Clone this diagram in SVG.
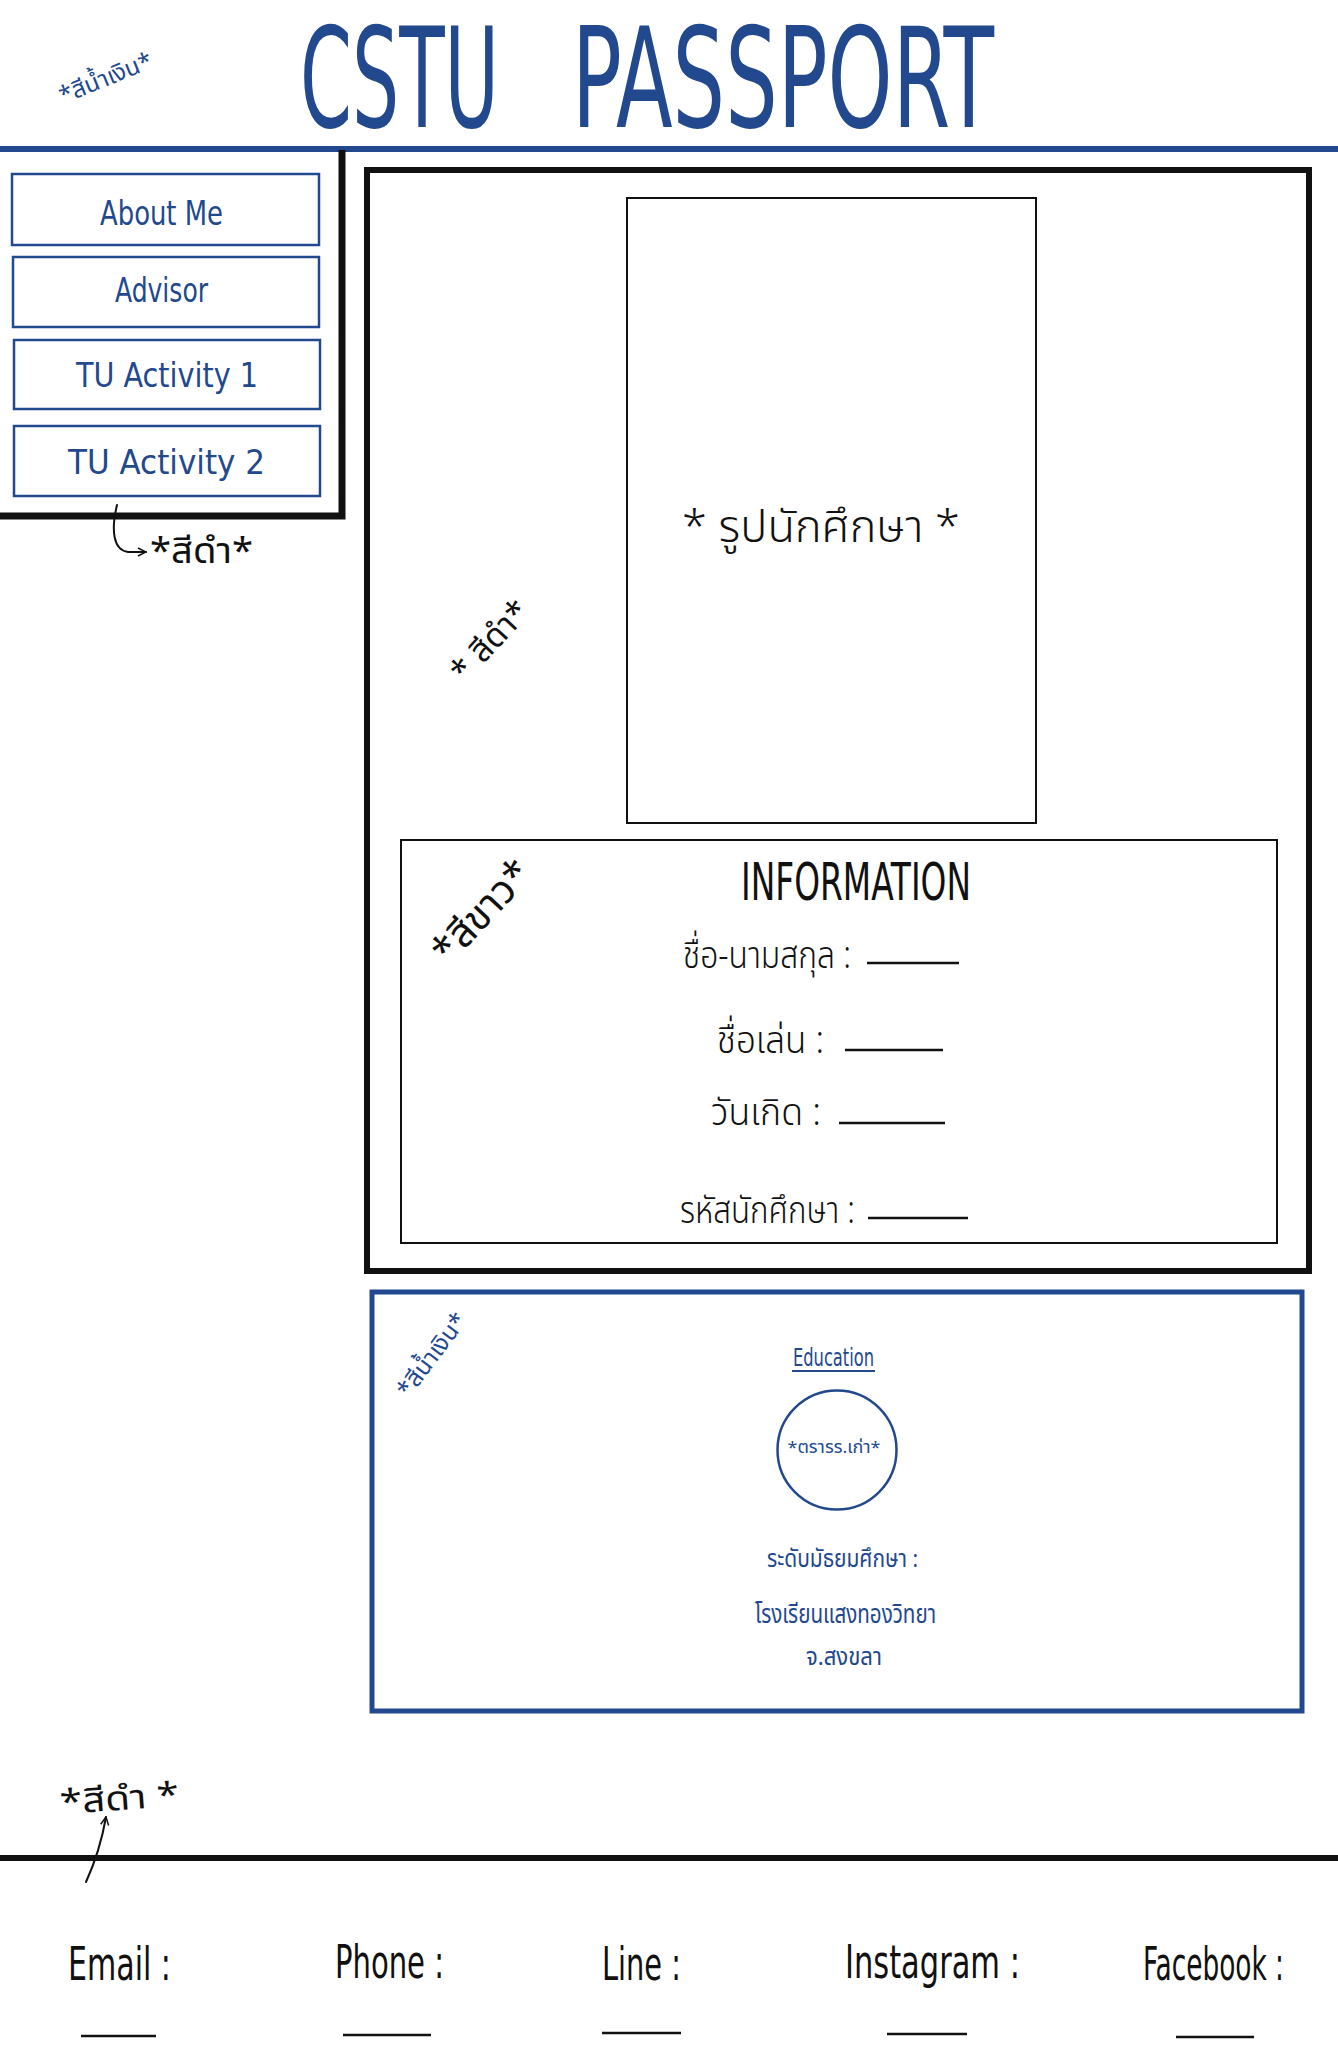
<svg xmlns="http://www.w3.org/2000/svg" width="1338" height="2048" viewBox="0 0 1338 2048">
<defs>
<style>
.bg{fill:#ffffff}
.blue{fill:#22488e}
.blk{fill:#111111}
.en{font-family:"Liberation Sans Narrow","DejaVu Sans Condensed","Liberation Sans",sans-serif}
.th{font-family:"Noto Sans Thai","Noto Sans Thai Looped","Loma","Garuda","Noto Sans",sans-serif}
.lt{font-weight:300}
.btn{fill:#ffffff;stroke:#22488e;stroke-width:2.5}
.thinbox{fill:#ffffff;stroke:#111111;stroke-width:2}
.uline{stroke:#111111;stroke-width:2.5}
.con{fill:none;stroke:#111111;stroke-width:2;stroke-linecap:round}
</style>
<marker id="arr" viewBox="0 0 10 10" refX="9" refY="5" markerWidth="10" markerHeight="10" markerUnits="userSpaceOnUse" orient="auto">
<path d="M1,1 L9,5 L1,9" fill="none" stroke="#111111" stroke-width="1.5"/>
</marker>
</defs>
<rect class="bg" x="0" y="0" width="1338" height="2048"/>

<g id="header">
<text class="en blue" font-size="90" transform="translate(0,127) scale(1,1.55)"><tspan x="300" y="0" textLength="199" lengthAdjust="spacingAndGlyphs">CSTU</tspan><tspan x="572" y="0" textLength="422" lengthAdjust="spacingAndGlyphs">PASSPORT</tspan></text>
<text class="th blue" x="106" y="86" font-size="24" text-anchor="middle" transform="rotate(-22 106 79)">*สีน้ำเงิน*</text>
<rect x="0" y="146" width="1338" height="6" fill="#22488e"/>
</g>

<g id="nav-panel">
<path d="M342,150 L342,516 L0,516" fill="none" stroke="#111111" stroke-width="7"/>
<g id="btn-about">
<rect class="btn" x="12" y="174" width="307" height="71"/>
<text class="en blue" x="100" y="225" font-size="34" textLength="123" lengthAdjust="spacingAndGlyphs">About  Me</text>
</g>
<g id="btn-advisor">
<rect class="btn" x="13" y="257" width="306" height="70"/>
<text class="en blue" x="115" y="302" font-size="34" textLength="93" lengthAdjust="spacingAndGlyphs">Advisor</text>
</g>
<g id="btn-act1">
<rect class="btn" x="14" y="340" width="306" height="69"/>
<text class="en blue" x="76" y="387" font-size="34" textLength="182" lengthAdjust="spacingAndGlyphs">TU  Activity  1</text>
</g>
<g id="btn-act2">
<rect class="btn" x="14" y="426" width="306" height="70"/>
<text class="en blue" x="68" y="474" font-size="34" textLength="197" lengthAdjust="spacingAndGlyphs">TU  Activity   2</text>
</g>
<text class="th blk" x="150" y="563" font-size="36" textLength="103" lengthAdjust="spacingAndGlyphs">*สีดำ*</text>
</g>

<g id="main-card">
<rect x="367" y="170" width="942" height="1101" fill="none" stroke="#111111" stroke-width="6"/>
<text class="th blk" x="490" y="652" font-size="33" text-anchor="middle" transform="rotate(-47 490 641)">* สีดำ*</text>
</g>

<g id="photo-box">
<rect class="thinbox" x="627" y="198" width="409" height="625"/>
<text class="th lt blk" x="682" y="542" font-size="44" textLength="278" lengthAdjust="spacingAndGlyphs">* รูปนักศึกษา *</text>
</g>

<g id="info-box">
<rect class="thinbox" x="401" y="840" width="876" height="403"/>
<text class="th blk" x="482" y="925" font-size="40" text-anchor="middle" transform="rotate(-47 482 912)">*สีขาว*</text>
<text class="en blk" font-size="40" transform="translate(0,900) scale(1,1.3)"><tspan x="741" y="0" textLength="230" lengthAdjust="spacingAndGlyphs">INFORMATION</tspan></text>
<text class="th lt blk" x="683" y="968" font-size="38" textLength="168" lengthAdjust="spacingAndGlyphs">ชื่อ-นามสกุล :</text>
<line class="uline" x1="867" y1="963" x2="959" y2="963"/>
<text class="th lt blk" x="717" y="1053" font-size="38" textLength="107" lengthAdjust="spacingAndGlyphs">ชื่อเล่น :</text>
<line class="uline" x1="845" y1="1050" x2="943" y2="1050"/>
<text class="th lt blk" x="711" y="1125" font-size="38" textLength="110" lengthAdjust="spacingAndGlyphs">วันเกิด :</text>
<line class="uline" x1="839" y1="1123" x2="945" y2="1123"/>
<text class="th lt blk" x="680" y="1223" font-size="38" textLength="175" lengthAdjust="spacingAndGlyphs">รหัสนักศึกษา :</text>
<line class="uline" x1="868" y1="1218" x2="968" y2="1218"/>
</g>

<g id="education-box">
<rect x="372" y="1292" width="930" height="419" fill="none" stroke="#22488e" stroke-width="5"/>
<text class="th blue" x="432" y="1363" font-size="24" text-anchor="middle" transform="rotate(-53 432 1355)">*สีน้ำเงิน*</text>
<text class="en blue" x="793" y="1366" font-size="24" textLength="81" lengthAdjust="spacingAndGlyphs">Education</text>
<line x1="792" y1="1371" x2="875" y2="1371" stroke="#22488e" stroke-width="2"/>
<circle cx="837" cy="1450" r="59.5" fill="none" stroke="#22488e" stroke-width="2.5"/>
<text class="th blue" x="834" y="1453" font-size="17" text-anchor="middle" textLength="93" lengthAdjust="spacingAndGlyphs">*ตรารร.เก่า*</text>
<text class="th blue" x="767" y="1567" font-size="24" textLength="151" lengthAdjust="spacingAndGlyphs">ระดับมัธยมศึกษา :</text>
<text class="th blue" x="755" y="1623" font-size="26" textLength="181" lengthAdjust="spacingAndGlyphs">โรงเรียนแสงทองวิทยา</text>
<text class="th blue" x="806" y="1665" font-size="24" textLength="76" lengthAdjust="spacingAndGlyphs">จ.สงขลา</text>
</g>

<g id="footer">
<text class="th blk" x="60" y="1810" font-size="34" textLength="119" lengthAdjust="spacingAndGlyphs" transform="rotate(-4 120 1800)">*สีดำ *</text>
<rect x="0" y="1855" width="1338" height="6" fill="#111111"/>
<g id="f-email">
<text class="en blk" font-size="36" transform="translate(0,1980) scale(1,1.28)"><tspan x="68" y="0" textLength="103" lengthAdjust="spacingAndGlyphs">Email :</tspan></text>
<line class="uline" x1="81" y1="2036" x2="156" y2="2036"/>
</g>
<g id="f-phone">
<text class="en blk" font-size="36" transform="translate(0,1978) scale(1,1.28)"><tspan x="335" y="0" textLength="109" lengthAdjust="spacingAndGlyphs">Phone :</tspan></text>
<line class="uline" x1="343" y1="2035" x2="431" y2="2035"/>
</g>
<g id="f-line">
<text class="en blk" font-size="36" transform="translate(0,1980) scale(1,1.28)"><tspan x="602" y="0" textLength="79" lengthAdjust="spacingAndGlyphs">Line :</tspan></text>
<line class="uline" x1="602" y1="2033" x2="681" y2="2033"/>
</g>
<g id="f-instagram">
<text class="en blk" font-size="36" transform="translate(0,1978) scale(1,1.28)"><tspan x="845" y="0" textLength="175" lengthAdjust="spacingAndGlyphs">Instagram :</tspan></text>
<line class="uline" x1="887" y1="2034" x2="967" y2="2034"/>
</g>
<g id="f-facebook">
<text class="en blk" font-size="36" transform="translate(0,1980) scale(1,1.28)"><tspan x="1143" y="0" textLength="141" lengthAdjust="spacingAndGlyphs">Facebook :</tspan></text>
<line class="uline" x1="1176" y1="2037" x2="1254" y2="2037"/>
</g>
</g>

<g id="connectors">
<path class="con" d="M117,505 C111,530 113,550 128,552 L146,552" marker-end="url(#arr)"/>
<path class="con" d="M86,1882 C96,1860 102,1840 106,1817" marker-end="url(#arr)"/>
</g>
</svg>
